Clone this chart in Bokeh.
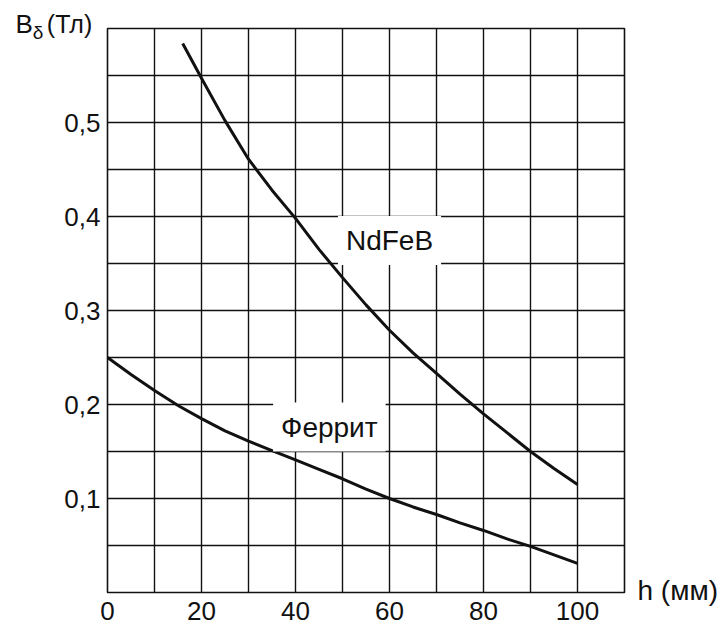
from bokeh.plotting import figure
from bokeh.models import Range1d, FixedTicker, Label
from bokeh.embed import file_html
from bokeh.resources import INLINE

# ---- data ----
ndfeb_h = [16, 20, 25, 30, 35, 40, 45, 50, 55, 60, 65, 70, 75, 80, 85, 90, 95, 100]
ndfeb_b = [0.584, 0.547, 0.502, 0.461, 0.428, 0.398, 0.365, 0.335, 0.306, 0.279,
           0.255, 0.233, 0.211, 0.190, 0.170, 0.150, 0.132, 0.115]

ferrite_h = [0, 5, 10, 15, 20, 25, 30, 35, 40, 45, 50, 55, 60, 65, 70, 75, 80, 85, 90, 95, 100]
ferrite_b = [0.250, 0.232, 0.215, 0.199, 0.185, 0.172, 0.161, 0.151, 0.141, 0.131, 0.121,
             0.110, 0.100, 0.091, 0.083, 0.074, 0.066, 0.057, 0.049, 0.040, 0.031]

x_ticks = [0, 20, 40, 60, 80, 100]
x_tick_labels = ["0", "20", "40", "60", "80", "100"]
y_ticks = [0.1, 0.2, 0.3, 0.4, 0.5]
y_tick_labels = ["0,1", "0,2", "0,3", "0,4", "0,5"]
x_grid = [0, 10, 20, 30, 40, 50, 60, 70, 80, 90, 100, 110]
y_grid = [0, 0.05, 0.1, 0.15, 0.2, 0.25, 0.3, 0.35, 0.4, 0.45, 0.5, 0.55, 0.6]

FONT = "Liberation Sans"
INK = "#111111"

p = figure(width=719, height=624, output_backend="svg", toolbar_location=None,
           x_range=Range1d(0, 110), y_range=Range1d(0, 0.6),
           min_border_left=107, min_border_right=95, min_border_top=28, min_border_bottom=32)
p.title.visible = False
p.background_fill_color = "white"
p.border_fill_color = "white"
p.outline_line_color = INK
p.outline_line_width = 1.6

# grid
p.xgrid.ticker = FixedTicker(ticks=x_grid)
p.ygrid.ticker = FixedTicker(ticks=y_grid)
for g in (p.xgrid, p.ygrid):
    g.grid_line_color = INK
    g.grid_line_width = 1.4
    g.grid_line_alpha = 1.0

# axes
p.xaxis.ticker = FixedTicker(ticks=x_ticks)
p.yaxis.ticker = FixedTicker(ticks=y_ticks)
p.xaxis.major_label_overrides = {t: l for t, l in zip(x_ticks, x_tick_labels)}
p.yaxis.major_label_overrides = {t: l for t, l in zip(y_ticks, y_tick_labels)}
for ax in (p.xaxis, p.yaxis):
    ax.axis_line_color = None
    ax.major_tick_line_color = None
    ax.minor_tick_line_color = None
    ax.major_tick_out = 0
    ax.major_tick_in = 0
    ax.major_label_text_font = FONT
    ax.major_label_text_font_size = "26px"
    ax.major_label_text_color = INK
p.xaxis.major_label_standoff = 9
p.yaxis.major_label_standoff = 7

# curves
p.line(ndfeb_h, ndfeb_b, line_color=INK, line_width=3, line_join="round")
p.line(ferrite_h, ferrite_b, line_color=INK, line_width=3, line_join="round")

# curve labels with white boxes
for txt, x, y in (("NdFeB", 60.0, 0.3745), ("Феррит", 47.2, 0.176)):
    p.add_layout(Label(x=x, y=y, text=txt, text_align="center", text_baseline="middle",
                       text_font=FONT, text_font_size="28px", text_color=INK,
                       background_fill_color="white", background_fill_alpha=1.0,
                       padding=(8, 9)))

# axis titles: placed in side panels (so they are not clipped to the frame),
# positioned in data units through the frame's scales
def outer_label(text, x, y, size, place):
    p.add_layout(Label(x=x, y=y, text=text, text_align="left", text_baseline="alphabetic",
                       text_font=FONT, text_font_size=size, text_color=INK), place)

outer_label("h (мм)", 112.77, 0.0021, "28px", "right")
outer_label("(Тл)", -12.9, 0.6043, "25px", "above")
outer_label("B", -19.6, 0.6043, "26px", "left")
outer_label("δ", -15.9, 0.5958, "19px", "left")

open("out.html", "w").write(file_html(p, INLINE))
